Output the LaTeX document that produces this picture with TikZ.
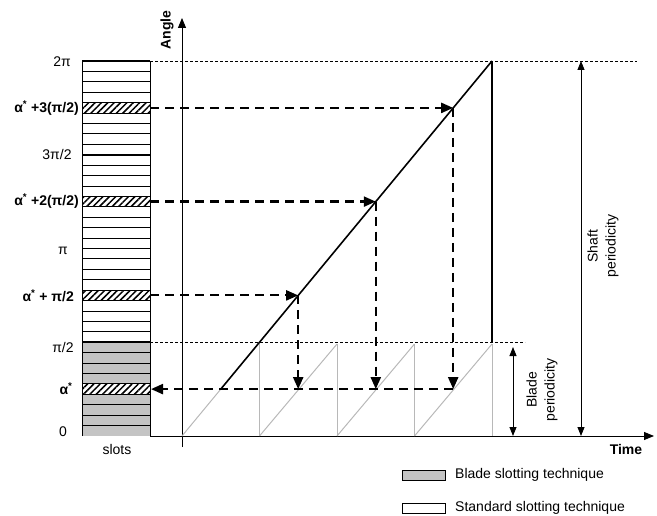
\documentclass[tikz,border=0pt]{standalone}
\usepackage{fontspec}
\setmainfont{Liberation Sans}
\usetikzlibrary{arrows.meta,patterns.meta,calc}
\definecolor{slotgrey}{HTML}{C4C4C4}
\definecolor{toothgrey}{HTML}{B8B8B8}
\begin{document}
\begin{tikzpicture}[x=1pt,y=-1pt,
  lbl/.style={font=\fontsize{14}{18}\selectfont, inner sep=0pt},
  blbl/.style={font=\fontsize{14}{18}\selectfont\bfseries, inner sep=0pt},
  guide/.style={line width=0.9pt, dash pattern=on 3pt off 2pt},
  dasharrow/.style={line width=2.2pt, dash pattern=on 9pt off 6pt, -{Triangle[length=12pt,width=10pt]}},
  dimarrow/.style={line width=0.8pt, {Triangle[length=9pt,width=7pt]}-{Triangle[length=9pt,width=7pt]}},
  tooth/.style={toothgrey, line width=1pt},
  slotline/.style={line width=0.9pt},
  quarterline/.style={line width=1.7pt},
  hatch/.style={fill=white, postaction={pattern={Lines[angle=45,distance=4.5pt,line width=1.5pt]}}},
  legbox/.style={draw, line width=0.8pt, minimum width=43pt, minimum height=10pt, inner sep=0pt}
]
\useasboundingbox (0,0) rectangle (657,516);

% ---- slot column ----
\pgfmathsetmacro{\sh}{375/36}
\fill[slotgrey] (82,436) rectangle (150,342.25);
\foreach \k in {4,13,22,31}{
  \path[hatch] (82,{436-\k*\sh}) rectangle (150,{436-(\k+1)*\sh});
}
\foreach \k in {1,...,35}{
  \draw[slotline] (82,{436-\k*\sh}) -- (150,{436-\k*\sh});
}
\foreach \k in {9,18,27,36}{
  \draw[quarterline] (82,{436-\k*\sh}) -- (150,{436-\k*\sh});
}
\draw[line width=0.8pt] (82,436) -- (82,61) (150,436) -- (150,61);

% ---- axes ----
\coordinate (yb) at (182,447);
\coordinate (yt) at (182,18);
\coordinate (xl) at (150,436);
\coordinate (xr) at (654,436);
\draw[line width=0.9pt, -{Triangle[length=10pt,width=8pt]}] (yb) -- (yt);
\draw[line width=0.9pt, -{Triangle[length=10pt,width=8pt]}] (xl) -- (xr);
\node[blbl, rotate=90] (angle) at (167,30) {Angle};
\node[blbl] (time) at (626,449) {Time};

% ---- guide lines ----
\coordinate (g1a) at (150,61);  \coordinate (g1b) at (637,61);
\coordinate (g2a) at (150,342); \coordinate (g2b) at (525,342);
\draw[guide] (g1a) -- (g1b);
\draw[guide] (g2a) -- (g2b);

% ---- key points ----
\coordinate (O) at (182,436);
\coordinate (T) at (492,61);
\coordinate (Q) at (220.8,389.1);
\coordinate (P1) at (298.2,295.4);
\coordinate (P2) at (375.8,201.6);
\coordinate (P3) at (453.2,107.9);
\coordinate (S0) at (151,389.1);
\coordinate (S1) at (150,295.4);
\coordinate (S2) at (150,201.6);
\coordinate (S3) at (150,107.9);
\coordinate (B1) at (298.2,389.1);
\coordinate (B2) at (375.8,389.1);
\coordinate (B3) at (453.2,389.1);

% ---- sawtooth (blade) ----
\draw[tooth] (O) -- (Q);
\foreach \i in {1,2,3}{
  \draw[tooth] ({182+77.5*\i},436) -- ({182+77.5*\i},344) ;
  \draw[tooth] ({182+77.5*\i},436) -- ({182+77.5*(\i+1)},344);
}
\draw[tooth] (492,344) -- (492,436);

% ---- shaft line ----
\draw[line width=1.6pt] (Q) -- (T);
\coordinate (Tb) at (492,342);
\draw[line width=2.4pt] (T) -- (Tb);

% ---- dashed arrows ----
\draw[dasharrow] (S1) -- (P1);
\draw[dasharrow] (S2) -- (P2);
\draw[dasharrow] (S3) -- (P3);
\draw[dasharrow] (P1) -- (B1);
\draw[dasharrow] (P2) -- (B2);
\draw[dasharrow] (P3) -- (B3);
\draw[dasharrow] (B3) -- (S0);

% ---- periodicity arrows ----
\coordinate (sa) at (581,61);  \coordinate (sb) at (581,436);
\coordinate (ba) at (513,347); \coordinate (bb) at (513,436);
\draw[dimarrow] (sa) -- (sb);
\draw[dimarrow] (ba) -- (bb);
\node[lbl, rotate=90, align=center] (shaft) at (603,246) {Shaft\\periodicity};
\node[lbl, rotate=90, align=center] (blade) at (542,390) {Blade\\periodicity};

% ---- left labels ----
\node[lbl] (l2pi) at (62,62) {2π};
\node[blbl, anchor=east] (la3) at (79,108) {α\textsuperscript{*} +3(π/2)};
\node[lbl] (l3pi2) at (57,154) {3π/2};
\node[blbl, anchor=east] (la2) at (79,201) {α\textsuperscript{*} +2(π/2)};
\node[lbl] (lpi) at (63,251) {π};
\node[blbl, anchor=east] (la1) at (74,296) {α\textsuperscript{*} + π/2};
\node[lbl] (lpi2) at (63,347) {π/2};
\node[blbl] (la0) at (66,389) {α\textsuperscript{*}};
\node[lbl] (l0) at (63,432) {0};
\node[lbl] (slots) at (117,449) {slots};

% ---- legend ----
\node[legbox, fill=slotgrey] (lg1) at (423.5,475) {};
\node[legbox, fill=white] (lg2) at (423.5,508) {};
\node[lbl, anchor=west] (lt1) at (455,475) {Blade slotting technique};
\node[lbl, anchor=west] (lt2) at (455,508) {Standard slotting technique};
\end{tikzpicture}
\end{document}
